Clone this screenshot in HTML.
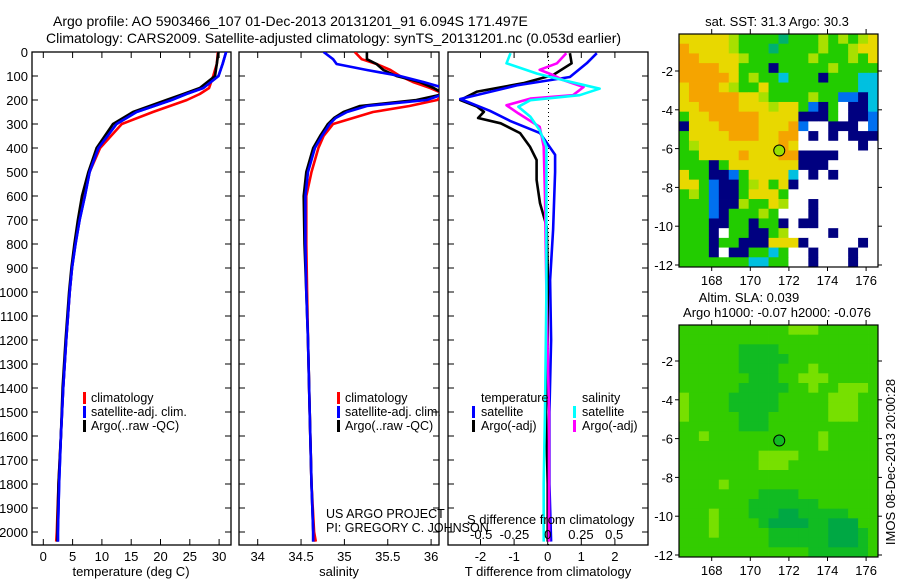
<!DOCTYPE html>
<html><head><meta charset="utf-8">
<style>
html,body{margin:0;padding:0;background:#fff;}
body{width:900px;height:580px;overflow:hidden;font-family:"Liberation Sans",sans-serif;}
svg text{font-family:"Liberation Sans",sans-serif;fill:#000;}
</style></head>
<body>
<svg id="fig" width="900" height="580" viewBox="0 0 900 580" xmlns="http://www.w3.org/2000/svg">
<defs>
<clipPath id="c1"><rect x="32" y="52" width="199" height="493"/></clipPath>
<clipPath id="c2"><rect x="239" y="52" width="200" height="493"/></clipPath>
<clipPath id="c3"><rect x="448" y="52" width="200" height="493"/></clipPath>
</defs>
<text x="53" y="26" font-size="14">Argo profile: AO 5903466_107 01-Dec-2013 20131201_91 6.094S 171.497E</text>
<text x="46" y="43" font-size="14">Climatology: CARS2009. Satellite-adjusted climatology: synTS_20131201.nc (0.053d earlier)</text>
<g id="g"></g>
</svg>
<script>
// ---------- data ----------
const depthTemp = [0,50,100,150,175,200,250,300,400,500,600,700,800,900,1000,1200,1400,1600,1800,2000,2040];
const tempClim = [29.8,29.6,29.0,28.3,26.7,24.5,18.7,13.4,9.7,7.9,6.8,6.1,5.4,4.9,4.5,3.9,3.4,3.0,2.6,2.3,2.2];
const tempSat  = [31.2,30.6,29.9,27.3,24.4,21.9,15.9,12.5,9.4,7.9,7.1,6.2,5.5,4.9,4.5,3.9,3.4,3.0,2.7,2.5,2.5];
const tempArgo = [29.9,29.6,29.3,26.7,23.9,21.0,15.3,11.9,9.1,7.7,6.6,5.9,5.3,4.8,4.4,3.8,3.3,3.0,2.6,2.4,2.4];

const depthSal = [0,30,50,75,100,125,150,175,200,225,250,275,300,350,400,500,600,800,1000,1200,1500,1800,2000,2040];
const salClim = [35.12,35.2,35.37,35.53,35.64,35.79,35.99,36.15,36.07,35.75,35.33,35.1,34.87,34.76,34.7,34.62,34.56,34.56,34.57,34.58,34.6,34.62,34.65,34.67];
const salArgo = [35.26,35.26,35.37,35.45,35.6,35.87,36.03,36.15,35.83,35.18,34.99,34.88,34.81,34.72,34.64,34.56,34.53,34.54,34.56,34.58,34.6,34.62,34.64,34.64];
const salSat  = [34.76,34.87,34.91,35.26,35.64,35.91,36.15,36.15,35.95,35.26,35.03,34.9,34.83,34.74,34.66,34.58,34.55,34.55,34.56,34.58,34.6,34.62,34.64,34.64];

const depthDTArgo = [5,47,96,130,165,200,228,249,275,297,338,394,450,533,630,728,900,1200,1500,1800,2040];
const dTArgo = [0.66,0.71,0.16,-0.73,-2.1,-2.6,-2.1,-1.9,-2.07,-1.4,-0.82,-0.53,-0.33,-0.33,-0.23,-0.03,0,0,-0.05,0,0];
const depthDTSat = [5,47,104,139,196,245,287,338,428,500,741,950,1200,1500,1800,2040];
const dTSat = [1.46,1.16,0.66,-0.92,-2.6,-1.72,-1.12,-0.23,0.22,0.22,0.16,0.07,0.1,0.05,0.05,0.1];
const depthDSSat = [5,47,90,118,153,180,201,228,270,326,394,600,1000,1500,1800,2040];
const dSSat = [-0.28,-0.31,-0.08,0.12,0.39,0.24,-0.13,-0.22,-0.13,-0.06,-0.01,-0.01,-0.01,-0.02,-0.03,-0.03];
const depthDSArgo = [5,47,74,96,118,146,180,194,222,256,312,394,600,1000,1500,2040];
const dSArgo = [0.14,0.07,-0.06,0.04,0.12,0.27,0.19,-0.13,-0.31,-0.22,-0.06,-0.03,-0.02,-0.01,0.01,0.01];

const depthTicks = [0,100,200,300,400,500,600,700,800,900,1000,1100,1200,1300,1400,1500,1600,1700,1800,1900,2000];
const tempTicks = [0,5,10,15,20,25,30];
const salTicks = [34,34.5,35,35.5,36];
const salTickLabels = ["34","34.5","35","35.5","36"];
const dTTicks = [-2,-1,0,1,2];
const dSTicks = [-0.5,-0.25,0,0.25,0.5];
const dSTickLabels = ["-0.5","-0.25","0","0.25","0.5"];
const lonTicks = [168,170,172,174,176];
const latTicks = [-2,-4,-6,-8,-10,-12];
const argoLon = 171.5, argoLat = -6.1;

const sstGrid = [
"YYYYYLGGGGTGGGLGLGLY",
"OYYYYLGGGTGGGGLGGLYY",
"OOYYYYLGGGGGGLGGGLGY",
"OOOOYYGGGNGGGGGLGGGG",
"OOOOOYGLGGCGGGNGGGCC",
"YOOOYLGGYGGGGGGGGGCC",
"YOOOOOYYLGGGGLGGBBNC",
"YYOOOOYYYLYYGBNGWNNC",
"GYYOOOOOYYYYNNNGWNNB",
"NYYYOOOOYYYOBWWNNNWB",
"GYYYYOOOYYOOWNWNWNNN",
"GLYYYYYYYYOYWWWWWWNW",
"GGYYYYOYYYOONNNNWWWW",
"GGGNGYYYYYYYNNNWWWWW",
"YGGNNBGYYYYCWNWNWWWW",
"YYGBNNGLYGYNWWWWWWWW",
"GLGBNNGYYYGWWWWWWWWW",
"GGGBNNLGGYLWWNWWWWWW",
"GGGBNGGGLGWWWNWWWWWW",
"GGGNNGGNGGNWNNWWWWWW",
"GGGNWGGNNGLWWWWNWWWW",
"GGGNGGNNNYYYNWWWWWNW",
"GGGNWNNGGCGWWNWWWNWW",
"GGGGGGGCCGGWWNWWWNWW"];
const slaGrid = [
"ggggggggggglllgggggg",
"gggggggggggggggggggg",
"ggggggddddgggggggggg",
"ggggggdddddggggggggg",
"ggggggddddggglgggggg",
"gggggggdddgglllggggg",
"ggggggdddddgglgglllg",
"lggggdddddggggglllgg",
"lggggdddddggggglllgg",
"lgggggdddgggggglllgg",
"ggggggdddggggggggggg",
"gglggggggggggglggggg",
"gggggggggggggglggggg",
"ggggggggllllgggggggg",
"gggggggglllggggggggg",
"gggggggggggggggggggg",
"gggglggggggggggggggg",
"ggggggggddddgggggggg",
"gggggggdddddddgggggg",
"ggglgggdddeedddddggg",
"ggglggggdeeeeddeeegg",
"ggglgggggddddddeeedg",
"gggggggggddddddeeedg",
"gggggggggggggddddddg"];

// ---------- helpers ----------
const NS="http://www.w3.org/2000/svg";
const root=document.getElementById('g');
function mk(tag,attrs,parent){const e=document.createElementNS(NS,tag);for(const k in attrs)e.setAttribute(k,attrs[k]);(parent||root).appendChild(e);return e;}
function txt(x,y,s,size,anchor,parent){const t=mk('text',{x:x,y:y,'font-size':size||13,'text-anchor':anchor||'start'},parent);t.textContent=s;return t;}

const yD = d => 52 + d*0.24;
const xT = t => 43.3 + t*5.86;
const xS = s => 257.7 + (s-34)*86.7;
const xDT = v => 547.7 + v*33.6;
const xDS = v => 547.7 + v*133;
const BOT=545;

function panel(x0,x1,name){
  const r=mk('rect',{x:x0,y:52,width:x1-x0,height:BOT-52,fill:'none',stroke:'#000','stroke-width':1.3});
  
  
  depthTicks.forEach(d=>{
    const y=yD(d);
    mk('line',{x1:x0,y1:y,x2:x0+6,y2:y,stroke:'#000','stroke-width':1});
    mk('line',{x1:x1-6,y1:y,x2:x1,y2:y,stroke:'#000','stroke-width':1});
  });
}
function line(xs,ds,xf,color,name,clip){
  const pts=xs.map((v,i)=>xf(v).toFixed(1)+','+yD(ds[i]).toFixed(1)).join(' ');
  const p=mk('polyline',{points:pts,fill:'none',stroke:color,'stroke-width':2.6,'stroke-linejoin':'round','clip-path':'url(#'+clip+')'});
  
  
}
function xticks(ticks,labels,xf,x0,x1){
  ticks.forEach((t,i)=>{
    const x=xf(t);
    mk('line',{x1:x,y1:52,x2:x,y2:58,stroke:'#000'});
    mk('line',{x1:x,y1:BOT-6,x2:x,y2:BOT,stroke:'#000'});
    const l=txt(x,561,labels[i],13,'middle');
    
    
  });
}
function legendBar(x,y,color){mk('rect',{x:x,y:y-11,width:3,height:12,fill:color});}

// ---------- panel 1: temperature ----------
panel(32,231,'temperature-panel');
depthTicks.forEach(d=>{const l=txt(28,yD(d)+5,String(d),13,'end');
  
  });
xticks(tempTicks,tempTicks.map(String),xT);
line(tempClim,depthTemp,xT,'#f00','temp-climatology-line','c1');
line(tempSat,depthTemp,xT,'#00f','temp-satellite-line','c1');
line(tempArgo,depthTemp,xT,'#000','temp-argo-line','c1');
line(tempSat,depthTemp,xT,'#00f','temp-satellite-line-top','c1');
let t=txt(131,576,'temperature (deg C)',13,'middle');


[['climatology','#f00'],['satellite-adj. clim.','#00f'],['Argo(..raw -QC)','#000']].forEach((e,i)=>{
  legendBar(83,403+i*14,e[1]);
  const l=txt(91,402+i*14,e[0],12.5);
  
  
});

// ---------- panel 2: salinity ----------
panel(239,439,'salinity-panel');
xticks(salTicks,salTickLabels,xS);
line(salClim,depthSal,xS,'#f00','sal-climatology-line','c2');
line(salArgo,depthSal,xS,'#000','sal-argo-line','c2');
line(salSat,depthSal,xS,'#00f','sal-satellite-line','c2');
t=txt(339,576,'salinity',13,'middle');


[['climatology','#f00'],['satellite-adj. clim.','#00f'],['Argo(..raw -QC)','#000']].forEach((e,i)=>{
  legendBar(337,403+i*14,e[1]);
  const l=txt(345,402+i*14,e[0],12.5);
  
  
});
t=txt(326,518,'US ARGO PROJECT',12.5);


t=txt(326,532,'PI: GREGORY C. JOHNSON',12.5);



// ---------- panel 3: differences ----------
panel(448,648,'difference-panel');
xticks(dTTicks,dTTicks.map(String),xDT);
mk('line',{x1:548.5,y1:52,x2:548.5,y2:BOT,stroke:'#000','stroke-dasharray':'1,3','stroke-width':1});
line(dTArgo,depthDTArgo,xDT,'#000','dT-argo-line','c3');
line(dTSat,depthDTSat,xDT,'#00f','dT-satellite-line','c3');
line(dSArgo,depthDSArgo,xDS,'#f0f','dS-argo-line','c3');
line(dSSat,depthDSSat,xDS,'#0ff','dS-satellite-line','c3');
dSTicks.forEach((v,i)=>{const l=txt(xDS(v),539,dSTickLabels[i],13,'middle');
  
  });
t=txt(467,524,'S difference from climatology',13);


t=txt(548,576,'T difference from climatology',13,'middle');


t=txt(481,402,'temperature',12.5);


t=txt(582,402,'salinity',12.5);


[['satellite','#00f',472],['Argo(-adj)','#000',472],['satellite','#0ff',573],['Argo(-adj)','#f0f',573]].forEach((e,i)=>{
  const row=i%2;
  legendBar(e[2],417+row*14,e[1]);
  const l=txt(e[2]+9,416+row*14,e[0],12.5);
  
  
});

// ---------- maps ----------
const MX0=679, MX1=878;
const xLon = lon => 711.7 + (lon-168)*19.3;
function mapBlock(grid,colors,y0,y1,yLat,name,circleFill){
  const g=mk('g',{});
  
  
  const rows=grid.length, cols=20, cw=(MX1-MX0)/cols, ch=(y1-y0)/rows;
  grid.forEach((row,r)=>{
    for(let c=0;c<cols;c++){
      const code=row[c]||row[row.length-1];
      const cell=mk('rect',{x:(MX0+c*cw).toFixed(2),y:(y0+r*ch).toFixed(2),width:(cw+0.4).toFixed(2),height:(ch+0.4).toFixed(2),fill:colors[code]||'#fff'},g);
      
      
    }
  });
  mk('rect',{x:MX0,y:y0,width:MX1-MX0,height:y1-y0,fill:'none',stroke:'#000','stroke-width':1.2});
  lonTicks.forEach(l=>{
    const x=xLon(l);
    mk('line',{x1:x,y1:y0-5,x2:x,y2:y0,stroke:'#000'});
    mk('line',{x1:x,y1:y1,x2:x,y2:y1+4,stroke:'#000'});
    const tl=txt(x,y1+18,String(l),13,'middle');
    
    
  });
  latTicks.forEach(l=>{
    const y=yLat(l);
    mk('line',{x1:MX0-4,y1:y,x2:MX0,y2:y,stroke:'#000'});
    mk('line',{x1:MX1,y1:y,x2:MX1+4,y2:y,stroke:'#000'});
    const tl=txt(MX0-6,y+5,String(l),13,'end');
    
    
  });
  const c=mk('circle',{cx:xLon(argoLon),cy:yLat(argoLat),r:5.5,fill:circleFill,stroke:'#000','stroke-width':1});
  
  
}
const sstColors={O:'#f5a400',Y:'#e8d800',L:'#a8e000',G:'#22cc00',T:'#00b070',C:'#00c0e0',B:'#0070f0',N:'#000080',W:'#ffffff'};
const slaColors={g:'#33cc00',l:'#77e000',d:'#11bb22',e:'#00a844'};
mapBlock(sstGrid,sstColors,34,267,lat=>71+(-2-lat)*19.4,'sst-map','#99e000');
mapBlock(slaGrid,slaColors,325,557,lat=>361+(-2-lat)*19.4,'sla-map','#11bb22');
t=txt(777,26,'sat. SST: 31.3 Argo: 30.3',13,'middle');


t=txt(749,302,'Altim. SLA: 0.039',13,'middle');


t=txt(777,317,'Argo h1000: -0.07 h2000: -0.076',13,'middle');


t=txt(0,0,'IMOS 08-Dec-2013 20:00:28',13,'middle');
t.setAttribute('transform','translate(895,462) rotate(-90)');


</script>
</body></html>
